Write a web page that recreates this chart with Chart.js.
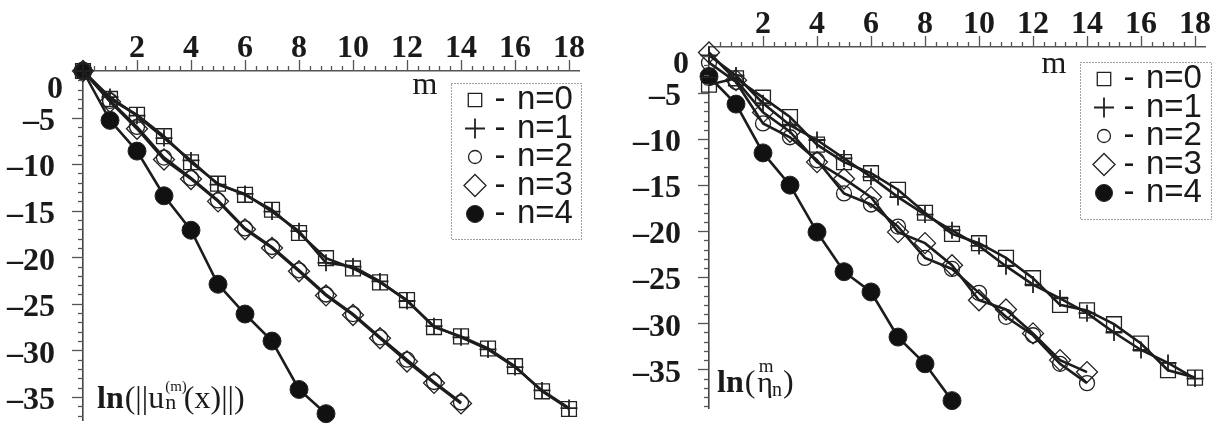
<!DOCTYPE html>
<html>
<head>
<meta charset="utf-8">
<script src="https://cdn.jsdelivr.net/npm/chart.js@4.4.0/dist/chart.umd.min.js"></script>
<style>
  body { margin:0; background:#fff; width:1223px; height:432px; position:relative; overflow:hidden; }
  canvas { position:absolute; top:0; }
</style>
</head>
<body>
<canvas id="chartNorma" width="600" height="432" style="left:0px"></canvas>
<canvas id="chartEta" width="613" height="432" style="left:610px"></canvas>
<script>
// Pasos m (eje horizontal)
const pasosM = [0, 1, 2, 3, 4, 5, 6, 7, 8, 9, 10, 11, 12, 13, 14, 15, 16, 17, 18];
const etiquetasN = ['n=0', 'n=1', 'n=2', 'n=3', 'n=4'];

// Panel izquierdo: ln(||u_n^(m)(x)||)
const normaN0 = [0, -3.0, -4.7, -7.0, -9.8, -12.1, -13.3, -14.9, -17.4, -20.1, -21.2, -22.7, -24.6, -27.5, -28.5, -29.8, -31.7, -34.4, -36.3];
const normaN1 = [0, -2.8, -4.8, -7.2, -9.6, -12.2, -13.2, -15.1, -17.2, -20.6, -21.0, -22.6, -24.7, -27.4, -28.6, -29.9, -31.8, -34.3, -36.2];
const normaN2 = [0, -3.2, -6.0, -9.3, -11.5, -13.9, -16.9, -18.9, -21.4, -24.0, -26.1, -28.6, -31.0, -33.4, -35.6];
const normaN3 = [0, -3.3, -6.2, -9.5, -11.6, -14.0, -17.0, -19.0, -21.5, -24.1, -26.2, -28.7, -31.2, -33.5, -35.7];
const normaN4 = [0, -5.3, -8.6, -13.4, -17.1, -22.9, -26.1, -29.0, -34.2, -36.8];

// Panel derecho: ln(eta_n^m)
const etaN0 = [-4.1, -3.4, -5.5, -7.6, -10.6, -12.5, -13.7, -15.5, -18.0, -20.3, -21.3, -22.9, -25.1, -28.0, -28.6, -30.1, -32.2, -35.1, -35.9];
const etaN1 = [-0.9, -3.1, -6.1, -8.5, -10.1, -12.1, -14.1, -16.3, -18.2, -19.9, -21.6, -23.8, -25.8, -27.3, -28.9, -31.0, -32.9, -34.3, -36.0];
const etaN2 = [-1.7, -3.8, -8.3, -9.8, -12.3, -15.9, -17.1, -19.5, -22.9, -24.1, -26.7, -29.3, -31.3, -34.4, -36.5];
const etaN3 = [-0.6, -3.6, -7.1, -9.2, -12.5, -14.3, -16.3, -20.1, -21.3, -23.7, -27.5, -28.5, -31.1, -34.0, -35.3];
const etaN4 = [-3.2, -6.2, -11.5, -15.0, -20.1, -24.4, -26.6, -31.5, -34.4, -38.4];

// Ticks de los ejes
const pasoMayorX = 2;
const pasoMenorX = 0.4;
const pasoMayorY = 5;
const pasoMenorY = 1;

// Estilo de marcador por serie
const estilosN = [
    { estilo: 'rect', radio: 10.5, grosor: 1.3, relleno: 'rgba(0,0,0,0)', radioLeyenda: 9.5 },
    { estilo: 'cross', radio: 8.5, grosor: 1.8, relleno: 'rgba(0,0,0,0)', radioLeyenda: 10 },
    { estilo: 'circle', radio: 7.5, grosor: 1.3, relleno: 'rgba(0,0,0,0)', radioLeyenda: 6.5 },
    { estilo: 'rectRot', radio: 10.5, grosor: 1.3, relleno: 'rgba(0,0,0,0)', radioLeyenda: 11 },
    { estilo: 'circle', radio: 9, grosor: 1, relleno: '#111', radioLeyenda: 8.5 }
];

const fuenteSerif = '"Liberation Serif", "Times New Roman", serif';
const fuenteSans = '"Liberation Sans", Arial, sans-serif';

// Plugin: ticks menores, "0", leyenda con recuadro punteado y rótulos
const pluginEjes = {
    id: 'ejesPanel',
    afterDraw(chart, args, opts) {
        const { ctx, chartArea, scales } = chart;
        const x = scales.x, y = scales.y;
        ctx.save();

        // ticks del eje x (hacia arriba)
        ctx.strokeStyle = '#555';
        ctx.lineWidth = 1.3;
        const nX = Math.floor(x.max / pasoMenorX + 1e-6);
        for (let k = 1; k <= nX; k++) {
            const v = k * pasoMenorX;
            const px = Math.round(x.getPixelForValue(v)) + 0.5;
            const mayor = Math.abs(v / pasoMayorX - Math.round(v / pasoMayorX)) < 1e-6;
            ctx.beginPath();
            ctx.moveTo(px, chartArea.top);
            ctx.lineTo(px, chartArea.top - (mayor ? 11 : 5));
            ctx.stroke();
        }
        // ticks del eje y (hacia la izquierda)
        const nY = Math.floor(-y.min / pasoMenorY + 1e-6);
        for (let k = 1; k <= nY; k++) {
            const v = -k * pasoMenorY;
            const py = Math.round(y.getPixelForValue(v)) + 0.5;
            const mayor = k % (pasoMayorY / pasoMenorY) === 0;
            ctx.beginPath();
            ctx.moveTo(chartArea.left, py);
            ctx.lineTo(chartArea.left - (mayor ? 11 : 5), py);
            ctx.stroke();
        }

        // etiqueta "0" desplazada bajo el eje
        ctx.fillStyle = '#1a1a1a';
        ctx.font = 'bold 32px ' + fuenteSerif;
        ctx.textAlign = 'right';
        ctx.textBaseline = 'middle';
        ctx.fillText('0', chartArea.left - 20, chartArea.top + opts.desplazaCero);

        // leyenda
        const caja = {
            izq: chartArea.right + opts.leyenda.dx - opts.leyenda.ancho,
            arriba: chartArea.top + opts.leyenda.dy,
            ancho: opts.leyenda.ancho,
            alto: opts.leyenda.alto
        };
        ctx.setLineDash([1, 2]);
        ctx.strokeStyle = '#444';
        ctx.lineWidth = 1;
        ctx.strokeRect(caja.izq + 0.5, caja.arriba + 0.5, caja.ancho, caja.alto);
        ctx.setLineDash([]);

        // "m" junto al recuadro
        ctx.font = '32px ' + fuenteSerif;
        ctx.textAlign = 'center';
        ctx.textBaseline = 'alphabetic';
        ctx.fillText('m', caja.izq - 26, caja.arriba + 11);

        chart.data.datasets.forEach((ds, i) => {
            const e = estilosN[i];
            const cy = caja.arriba + 17 + i * 28.5;
            ctx.strokeStyle = '#222';
            ctx.fillStyle = e.relleno;
            ctx.lineWidth = e.grosor;
            if (Chart.helpers && Chart.helpers.drawPoint) {
                Chart.helpers.drawPoint(ctx, { pointStyle: e.estilo, radius: e.radioLeyenda, rotation: 0, borderWidth: e.grosor }, caja.izq + 24, cy);
            }
            ctx.fillStyle = '#1a1a1a';
            ctx.font = '33px ' + fuenteSans;
            ctx.textBaseline = 'middle';
            ctx.textAlign = 'center';
            ctx.fillText('-', caja.izq + 49, cy);
            ctx.textAlign = 'left';
            ctx.fillText(ds.label, caja.izq + 66, cy);
        });

        // rótulo del eje y
        ctx.fillStyle = '#1a1a1a';
        ctx.textAlign = 'left';
        ctx.textBaseline = 'alphabetic';
        opts.rotulo(ctx, chartArea);

        ctx.restore();
    }
};

// Rótulo ln(||u_n^(m)(x)||)
function rotuloNorma(ctx, area) {
    let cx = area.left + 14;
    const base = area.bottom - 12;
    ctx.font = 'bold 32px ' + fuenteSerif;
    ctx.fillText('ln', cx, base);
    cx += ctx.measureText('ln').width + 1;
    ctx.font = '32px ' + fuenteSerif;
    ctx.fillText('(||u', cx, base);
    cx += ctx.measureText('(||u').width + 1;
    ctx.font = '15px ' + fuenteSerif;
    ctx.fillText('(m)', cx, base - 17);
    const anchoSup = ctx.measureText('(m)').width;
    ctx.font = '22px ' + fuenteSerif;
    ctx.fillText('n', cx, base + 1);
    cx += Math.max(anchoSup - 3, ctx.measureText('n').width);
    ctx.font = '32px ' + fuenteSerif;
    ctx.fillText('(x)||)', cx, base);
}

// Rótulo ln(eta_n^m)
function rotuloEta(ctx, area) {
    let cx = area.left + 8;
    const base = area.bottom - 16;
    ctx.font = 'bold 32px ' + fuenteSerif;
    ctx.fillText('ln', cx, base);
    cx += ctx.measureText('ln').width + 1;
    ctx.font = '32px ' + fuenteSerif;
    ctx.fillText('(', cx, base);
    cx += ctx.measureText('(').width + 2;
    ctx.font = '30px ' + fuenteSerif;
    ctx.fillText('\u03b7', cx, base);
    const anchoEta = ctx.measureText('\u03b7').width;
    ctx.font = '19px ' + fuenteSerif;
    ctx.textAlign = 'center';
    ctx.fillText('m', cx + anchoEta / 2 + 1, base - 20);
    ctx.textAlign = 'left';
    ctx.font = '20px ' + fuenteSerif;
    ctx.fillText('n', cx + anchoEta - 1, base + 4);
    cx += anchoEta - 1 + ctx.measureText('n').width + 1;
    ctx.font = '32px ' + fuenteSerif;
    ctx.fillText(')', cx, base);
}

// Construir un panel
function construirPanel(canvasId, series, cfg) {
    const canvas = document.getElementById(canvasId);
    if (!canvas) return;

    const datasets = series.map((valores, i) => {
        const e = estilosN[i];
        return {
            label: etiquetasN[i],
            data: valores.map((v, k) => ({ x: pasosM[k], y: v })),
            borderColor: '#1c1c1c',
            borderWidth: 2.6,
            pointStyle: e.estilo,
            pointRadius: e.radio,
            pointBorderWidth: e.grosor,
            pointBorderColor: '#222',
            pointBackgroundColor: e.relleno,
            tension: 0,
            clip: false
        };
    });

    const fuenteTicks = { family: fuenteSerif, size: 32, weight: 'bold' };

    return new Chart(canvas.getContext('2d'), {
        type: 'line',
        data: { datasets: datasets },
        options: {
            responsive: false,
            animation: false,
            devicePixelRatio: 1,
            layout: { padding: cfg.padding },
            scales: {
                x: {
                    type: 'linear',
                    position: 'top',
                    min: 0,
                    max: cfg.xMax,
                    grid: { display: false },
                    border: { display: true, color: '#555', width: 1.6 },
                    ticks: {
                        stepSize: pasoMayorX,
                        includeBounds: false,
                        autoSkip: false,
                        maxRotation: 0,
                        padding: -5,
                        color: '#1a1a1a',
                        font: fuenteTicks,
                        callback: v => (v === 0 ? '' : String(v))
                    },
                    afterFit: s => {
                        s.height = cfg.altoEjeX;
                        s.paddingLeft = 0;
                        s.paddingRight = 0;
                    }
                },
                y: {
                    type: 'linear',
                    min: cfg.yMin,
                    max: 0,
                    grid: { display: false },
                    border: { display: true, color: '#444', width: 1.6 },
                    ticks: {
                        stepSize: pasoMayorY,
                        includeBounds: false,
                        autoSkip: false,
                        padding: 20,
                        labelOffset: 4,
                        color: '#1a1a1a',
                        font: fuenteTicks,
                        callback: v => (v === 0 ? '' : '\u2013' + Math.abs(v))
                    },
                    afterFit: s => {
                        s.width = cfg.anchoEjeY;
                        s.paddingTop = 0;
                        s.paddingBottom = 0;
                    }
                }
            },
            plugins: {
                legend: { display: false },
                tooltip: { enabled: false },
                ejesPanel: {
                    desplazaCero: cfg.desplazaCero,
                    leyenda: cfg.leyenda,
                    rotulo: cfg.rotulo
                }
            }
        },
        plugins: [pluginEjes]
    });
}

construirPanel('chartNorma', [normaN0, normaN1, normaN2, normaN3, normaN4], {
    xMax: 18.37,
    yMin: -37.5,
    altoEjeX: 71,
    anchoEjeY: 83,
    padding: { left: 0, top: 0, right: 21, bottom: 7 },
    desplazaCero: 19,
    leyenda: { dx: 2, dy: 12, ancho: 130, alto: 156 },
    rotulo: rotuloNorma
});

construirPanel('chartEta', [etaN0, etaN1, etaN2, etaN3, etaN4], {
    xMax: 18.37,
    yMin: -39.2,
    altoEjeX: 47,
    anchoEjeY: 99,
    padding: { left: 0, top: 0, right: 18, bottom: 24 },
    desplazaCero: 18,
    leyenda: { dx: 6, dy: 15, ancho: 131, alto: 157 },
    rotulo: rotuloEta
});
</script>
</body>
</html>
